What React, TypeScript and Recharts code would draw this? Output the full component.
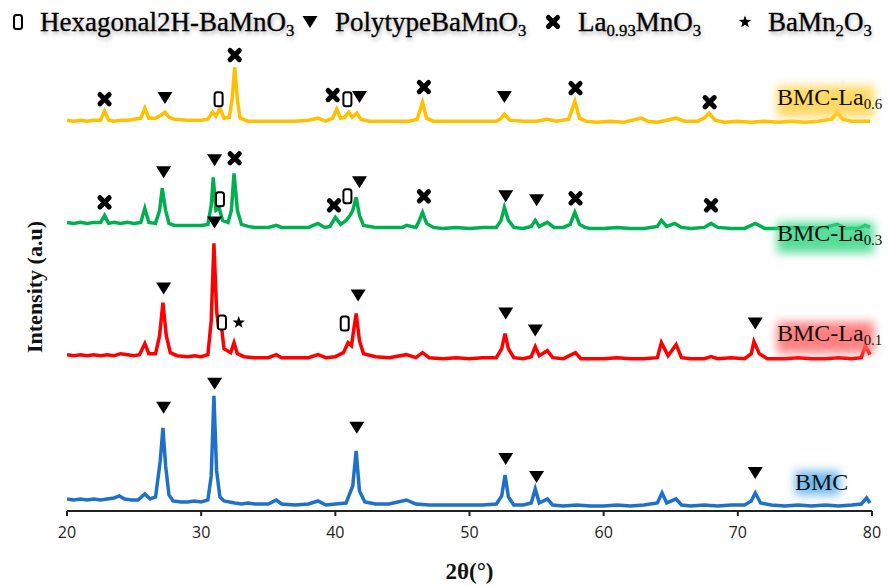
import React from "react"
import { ComposedChart, Line, Scatter, XAxis, YAxis } from "recharts"

// 2θ (deg), intensity (a.u., patterns stacked as plotted)
const bmc: [number, number][] = [
  [20.0, 12], [20.5, 11], [21.0, 12], [21.5, 11], [22.0, 12], [22.5, 11], [23.0, 12], [23.5, 13],
  [23.9, 15], [24.3, 12], [24.8, 11], [25.3, 11], [25.8, 17], [26.2, 12], [26.6, 14], [26.95, 50],
  [27.15, 83], [27.35, 45], [27.6, 16], [27.9, 10], [28.5, 9], [29.0, 9], [29.5, 10], [30.0, 9],
  [30.5, 11], [30.75, 35], [30.95, 115], [31.15, 40], [31.4, 14], [31.7, 10], [32.5, 8], [33.0, 7],
  [33.5, 8], [34.0, 7], [35.0, 7], [35.6, 11], [36.0, 7], [37.0, 6], [38.0, 7], [38.7, 10],
  [39.3, 6], [40.0, 7], [40.8, 8], [41.3, 25], [41.55, 60], [41.8, 20], [42.2, 9], [43.0, 7],
  [44.0, 7], [45.3, 11], [46.0, 7], [47.0, 6], [48.0, 6], [49.0, 6], [50.0, 6], [51.0, 6],
  [52.0, 7], [52.4, 15], [52.65, 36], [52.9, 14], [53.3, 6], [54.0, 6], [54.6, 8], [54.9, 22],
  [55.2, 8], [55.8, 12], [56.2, 6], [57.0, 5], [58.0, 6], [59.0, 5], [60.0, 5], [61.0, 6],
  [62.0, 5], [63.0, 6], [64.0, 8], [64.35, 18], [64.7, 8], [65.4, 12], [65.8, 6], [66.5, 5],
  [67.5, 6], [68.5, 5], [69.5, 6], [70.5, 6], [71.0, 10], [71.3, 18], [71.7, 8], [72.5, 6],
  [73.5, 5], [74.5, 6], [75.5, 5], [76.5, 6], [77.5, 5], [78.5, 6], [79.2, 7], [79.6, 13], [79.85, 8],
]

const la01: [number, number][] = [
  [20.0, 156], [20.5, 155], [21.0, 156], [21.5, 155], [22.0, 156], [22.5, 155], [23.0, 156], [23.5, 155],
  [24.0, 157], [24.5, 156], [25.0, 155], [25.4, 156], [25.8, 167], [26.1, 157], [26.6, 157], [26.9, 175],
  [27.15, 208], [27.4, 175], [27.7, 158], [28.2, 155], [29.0, 154], [29.5, 155], [30.0, 154], [30.5, 156],
  [30.75, 190], [30.95, 267], [31.15, 200], [31.3, 182], [31.45, 192], [31.7, 162], [32.2, 158], [32.45, 168],
  [32.7, 157], [33.2, 154], [34.0, 153], [35.0, 153], [35.6, 156], [36.0, 153], [37.0, 153], [38.0, 153],
  [38.7, 156], [39.3, 153], [40.0, 154], [40.6, 158], [40.95, 168], [41.2, 165], [41.55, 197], [41.8, 170],
  [42.1, 157], [43.0, 154], [44.0, 153], [45.3, 156], [46.0, 153], [46.5, 158], [47.0, 153], [48.0, 152],
  [49.0, 153], [50.0, 152], [51.0, 153], [52.0, 153], [52.4, 162], [52.65, 177], [52.9, 162], [53.3, 153],
  [54.0, 152], [54.6, 154], [54.9, 164], [55.2, 155], [55.8, 160], [56.2, 153], [57.0, 152], [57.9, 158],
  [58.3, 152], [59.0, 152], [60.0, 152], [61.0, 153], [62.0, 152], [63.0, 152], [64.0, 153], [64.3, 168],
  [64.8, 155], [65.4, 166], [65.8, 153], [66.5, 152], [67.5, 152], [68.0, 154], [68.5, 152], [69.5, 153],
  [70.5, 152], [71.0, 157], [71.2, 169], [71.6, 157], [72.2, 152], [73.5, 152], [74.5, 153], [75.5, 152],
  [76.5, 152], [77.5, 153], [78.5, 152], [79.2, 153], [79.5, 165], [79.85, 156],
]

const la03: [number, number][] = [
  [20.0, 288], [20.5, 287], [21.0, 288], [21.5, 287], [22.0, 288], [22.5, 288], [22.8, 295], [23.1, 287],
  [23.5, 288], [24.0, 287], [24.5, 288], [25.0, 287], [25.5, 288], [25.8, 302], [26.1, 288], [26.6, 287],
  [26.9, 300], [27.1, 322], [27.35, 300], [27.6, 287], [28.0, 285], [29.0, 285], [30.0, 285], [30.5, 286],
  [30.75, 305], [30.9, 333], [31.1, 300], [31.35, 302], [31.6, 290], [32.0, 288], [32.25, 300], [32.45, 337],
  [32.7, 300], [33.0, 286], [33.5, 284], [34.0, 283], [35.0, 283], [35.6, 285], [36.0, 283], [37.0, 283],
  [38.0, 283], [38.7, 287], [39.2, 283], [39.6, 284], [40.0, 293], [40.4, 286], [40.8, 290], [41.1, 295],
  [41.3, 300], [41.55, 313], [41.8, 295], [42.1, 285], [43.0, 283], [44.0, 283], [45.0, 283], [45.3, 285],
  [46.0, 283], [46.2, 288], [46.5, 298], [46.8, 287], [47.3, 283], [48.0, 282], [49.0, 283], [50.0, 282],
  [51.0, 283], [52.0, 283], [52.35, 290], [52.6, 303], [52.9, 290], [53.3, 283], [54.0, 282], [54.6, 284],
  [54.9, 290], [55.2, 284], [55.8, 288], [56.3, 283], [57.0, 283], [57.5, 286], [57.85, 298], [58.2, 286],
  [58.6, 283], [59.0, 282], [60.0, 282], [61.0, 283], [62.0, 282], [63.0, 282], [64.0, 284], [64.3, 290],
  [64.7, 284], [65.3, 287], [65.8, 283], [66.5, 282], [67.5, 283], [68.0, 287], [68.5, 283], [69.5, 282],
  [70.5, 282], [71.3, 287], [72.0, 282], [73.5, 282], [74.5, 283], [75.5, 282], [76.5, 283], [77.4, 286],
  [78.0, 282], [79.0, 282], [79.5, 285], [79.85, 283],
]

const la06: [number, number][] = [
  [20.0, 390], [20.5, 389], [21.0, 390], [21.5, 389], [22.0, 390], [22.5, 390], [22.8, 399], [23.1, 390],
  [23.5, 389], [24.0, 390], [24.5, 390], [25.0, 391], [25.5, 392], [25.8, 402], [26.1, 392], [26.6, 392],
  [27.0, 395], [27.3, 398], [27.6, 393], [28.0, 391], [29.0, 390], [30.0, 390], [30.5, 391], [30.85, 398],
  [31.1, 394], [31.4, 402], [31.7, 392], [32.1, 393], [32.3, 410], [32.5, 443], [32.7, 410], [32.9, 392],
  [33.5, 389], [34.0, 389], [35.0, 389], [36.0, 389], [37.0, 389], [38.0, 390], [38.7, 392], [39.3, 389],
  [39.8, 392], [40.1, 401], [40.4, 392], [40.7, 393], [41.0, 398], [41.25, 393], [41.6, 397], [41.9, 391],
  [42.5, 389], [43.5, 389], [44.5, 389], [45.5, 389], [46.1, 391], [46.5, 408], [46.8, 392], [47.3, 389],
  [48.0, 389], [49.0, 389], [50.0, 389], [51.0, 389], [52.0, 389], [52.3, 391], [52.6, 396], [53.0, 390],
  [54.0, 389], [55.0, 389], [55.8, 391], [56.5, 389], [57.4, 391], [57.85, 409], [58.2, 392], [58.7, 389],
  [59.5, 388], [60.5, 389], [61.5, 388], [62.8, 392], [63.3, 389], [64.0, 388], [65.4, 392], [66.0, 389],
  [67.0, 389], [67.5, 392], [67.85, 397], [68.3, 390], [69.0, 388], [70.0, 389], [71.0, 388], [72.0, 389],
  [73.0, 388], [74.0, 389], [75.0, 388], [76.0, 389], [77.0, 391], [77.4, 398], [77.8, 391], [78.5, 389],
  [79.2, 389], [79.85, 389],
]

// phase markers [2θ, height]
const hexMarks: [number, number][] = [
  [31.3, 411], [40.9, 411], [31.4, 311], [40.9, 314], [31.55, 188], [40.7, 187],
]
const polyMarks: [number, number][] = [
  [27.3, 412], [41.8, 413], [52.6, 413],
  [27.2, 338], [31.0, 350], [41.8, 328], [52.7, 314], [55.0, 310],
  [27.2, 222], [31.0, 288], [41.7, 215], [52.7, 197], [54.9, 180], [71.3, 187],
  [27.2, 103], [31.0, 127], [41.6, 83], [52.7, 52], [55.0, 34], [71.3, 38],
]
const laMarks: [number, number][] = [
  [22.8, 411], [32.5, 455], [39.8, 415], [46.6, 423], [57.9, 422], [67.9, 408],
  [22.8, 308], [32.5, 352], [39.9, 305], [46.6, 314], [57.9, 312], [68.0, 305],
]
const starMarks: [number, number][] = [[32.8, 188]]

const xTicks = [20, 30, 40, 50, 60, 70, 80]

const toPts = (a: [number, number][]) => a.map(([x, y]) => ({ x, y }))

const serif = "'Liberation Serif', 'Times New Roman', serif"

function Tri({ cx, cy }: any) {
  return <polygon points={`${cx - 7.5},${cy - 6} ${cx + 7.5},${cy - 6} ${cx},${cy + 6}`} fill="#000" />
}
function Cross({ cx, cy }: any) {
  const d = 4.6
  return (
    <g stroke="#000" strokeWidth={5} strokeLinecap="round">
      <line x1={cx - d} y1={cy - d} x2={cx + d} y2={cy + d} />
      <line x1={cx - d} y1={cy + d} x2={cx + d} y2={cy - d} />
    </g>
  )
}
function Hex({ cx, cy }: any) {
  return <rect x={cx - 4} y={cy - 7} width={8} height={14} rx={2.5} fill="#fff" stroke="#000" strokeWidth={2} />
}
function Star({ cx, cy }: any) {
  const pts: string[] = []
  for (let i = 0; i < 10; i++) {
    const r = i % 2 === 0 ? 6.5 : 2.7
    const a = -Math.PI / 2 + (i * Math.PI) / 5
    pts.push(`${cx + r * Math.cos(a)},${cy + r * Math.sin(a)}`)
  }
  return <polygon points={pts.join(" ")} fill="#000" />
}

function Icon({ Shape, left }: { Shape: any; left: number }) {
  return (
    <svg width={20} height={20} style={{ position: "absolute", left: left - 10, top: 12 }}>
      <Shape cx={10} cy={10} />
    </svg>
  )
}

const sub = { fontSize: "0.62em", verticalAlign: "-0.28em" }
const legendText = { position: "absolute" as const, top: 9, fontFamily: serif, fontSize: 27, lineHeight: "27px", whiteSpace: "nowrap" as const, color: "#000", WebkitTextStroke: "0.3px #000", textShadow: "1px 3px 4px rgba(0,0,0,0.35)" }

function SeriesLabel({ left, top, glow, name, s }: { left: number; top: number; glow: string; name: string; s?: string }) {
  return (
    <div style={{ position: "absolute", left, top, fontFamily: serif, fontSize: 24, lineHeight: "24px", whiteSpace: "nowrap", color: "#111" }}>
      <div style={{ position: "absolute", left: 0, right: 8, top: 1, bottom: -1, background: glow, filter: "blur(5px)", opacity: 0.85 }} />
      <span style={{ position: "relative" }}>
        {name}
        {s && <span style={sub}>{s}</span>}
      </span>
    </div>
  )
}

export default function App() {
  return (
    <div style={{ position: "absolute", left: 0, top: 0, width: 889, height: 586, background: "#fff" }}>
      <ComposedChart width={889} height={586} margin={{ top: 40, right: 17, bottom: 35, left: 67 }}>
        <XAxis
          type="number"
          dataKey="x"
          domain={[20, 80]}
          ticks={xTicks}
          allowDataOverflow
          height={40}
          stroke="#222"
          strokeWidth={2}
          tickSize={5}
          tickMargin={11}
          tick={{ fill: "#222", fontSize: 16, fontFamily: "'Open Sans', sans-serif" }}
          label={{ value: "2θ(°)", position: "bottom", offset: 12, fill: "#111", fontSize: 23, fontWeight: "bold", fontFamily: serif }}
        />
        <YAxis type="number" dataKey="y" domain={[0, 470]} hide allowDataOverflow />
        <Line data={toPts(la06)} dataKey="y" stroke="#FFC000" strokeWidth={3.5} dot={false} isAnimationActive={false} />
        <Line data={toPts(la03)} dataKey="y" stroke="#00B050" strokeWidth={3.5} dot={false} isAnimationActive={false} />
        <Line data={toPts(la01)} dataKey="y" stroke="#FF0000" strokeWidth={3.5} dot={false} isAnimationActive={false} />
        <Line data={toPts(bmc)} dataKey="y" stroke="#1F70C8" strokeWidth={3.5} dot={false} isAnimationActive={false} />
        <Scatter data={toPts(polyMarks)} shape={Tri} isAnimationActive={false} />
        <Scatter data={toPts(laMarks)} shape={Cross} isAnimationActive={false} />
        <Scatter data={toPts(hexMarks)} shape={Hex} isAnimationActive={false} />
        <Scatter data={toPts(starMarks)} shape={Star} isAnimationActive={false} />
      </ComposedChart>

      <Icon Shape={Hex} left={18} />
      <div style={{ ...legendText, left: 40 }}>Hexagonal2H-BaMnO<span style={sub}>3</span></div>
      <Icon Shape={Tri} left={310} />
      <div style={{ ...legendText, left: 335 }}>PolytypeBaMnO<span style={sub}>3</span></div>
      <Icon Shape={Cross} left={553} />
      <div style={{ ...legendText, left: 578 }}>La<span style={sub}>0.93</span>MnO<span style={sub}>3</span></div>
      <Icon Shape={Star} left={745} />
      <div style={{ ...legendText, left: 768 }}>BaMn<span style={sub}>2</span>O<span style={sub}>3</span></div>

      <SeriesLabel left={777} top={85} glow="#FFD24A" name="BMC-La" s="0.6" />
      <SeriesLabel left={777} top={221} glow="#3DD88A" name="BMC-La" s="0.3" />
      <SeriesLabel left={777} top={321} glow="#FF6B6B" name="BMC-La" s="0.1" />
      <SeriesLabel left={795} top={470} glow="#5AAEE8" name="BMC" />

      <div style={{ position: "absolute", left: 35, top: 287, transform: "translate(-50%, -50%) rotate(-90deg)", fontFamily: serif, fontSize: 22, fontWeight: "bold", whiteSpace: "nowrap", color: "#111" }}>
        Intensity (a.u)
      </div>
    </div>
  )
}
